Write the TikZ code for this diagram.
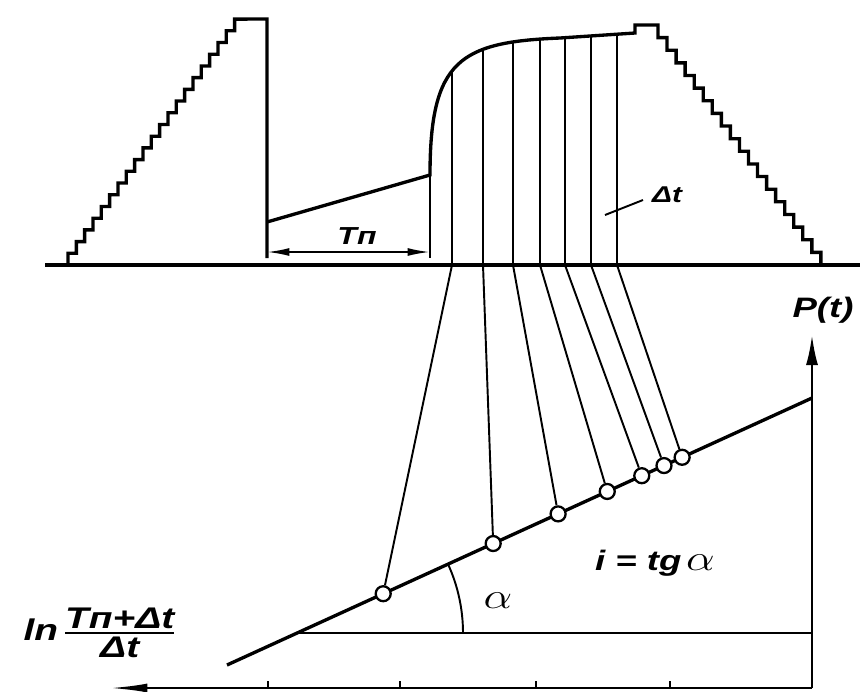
\documentclass[tikz,border=0pt]{standalone}
\usepackage{amsmath}
\usepackage{graphicx}
\usepackage{fontspec}
\newfontfamily\labfont{Liberation Sans}[FakeStretch=1.3]
\usetikzlibrary{arrows.meta}
\usetikzlibrary{calc}

\newcommand{\bigalpha}{\scalebox{1.5}[1.2]{$\alpha$}}

\begin{document}
\begin{tikzpicture}[x=0.02cm,y=-0.02cm]
    \tikzset{thickline/.style = {line width=1.9pt, line join=miter}}
    \tikzset{thinline/.style = {line width=1.1pt}}
    \tikzset{ring/.style = {shape=circle,draw,fill=white,line width=1.3pt,inner sep=0pt,minimum size=0.3cm}}
    \tikzset{lab/.style = {inner sep=1pt, font=\labfont\bfseries\itshape}}
    \tikzset{dim/.style = {thinline, {Latex[length=0.45cm,width=0.16cm]}-{Latex[length=0.45cm,width=0.16cm]}}}
    \tikzset{axisv/.style = {line width=1.4pt, -{Latex[length=0.6cm,width=0.24cm]}}}
    \tikzset{axish/.style = {line width=1.4pt, -{Latex[length=0.75cm,width=0.18cm]}}}

    \useasboundingbox (0,0) rectangle (862,691);

    % time base
    \coordinate (bl) at (45,265);
    \coordinate (br) at (860,265);
    \draw[thickline] (bl) -- (br);

    % loading steps, hold, unloading steps
    \draw[thickline] (68,265) \foreach \k in {1,...,21} { -- ++(0,-11.71) -- ++(8.33,0) } -- (267,19) -- (267,258);
    \draw[thickline] (267,222) -- (430,175) .. controls (430,60) and (460,42) .. (560,38) -- (635,33) -- (635,25) -- (658,25)
        \foreach \k in {1,...,19} { -- ++(0,12.63) -- ++(9.05,0) };
    \draw[thinline] (430,175) -- (430,258);

    % pause length
    \coordinate (tpl) at (267,252);
    \coordinate (tpr) at (430,252);
    \draw[dim] (tpl) -- (tpr);
    \node[lab] (tp) at (357,236) {\fontsize{14}{16}\selectfont Tп};

    % regression line and angle
    \coordinate (r0) at (227,665);
    \coordinate (r1) at (812,398);
    \coordinate (va) at (297,633);
    \draw[line width=1.9pt] (r0) -- (r1);
    \draw[thinline] (va) -- (812,633);
    \draw[thinline] (463,633) arc[start angle=0, end angle=-24.5, radius=166];
    \node[font=\fontsize{16}{18}\selectfont] (al) at (498,601) {\bigalpha};

    % readings
    \foreach \x/\y/\p [count=\i] in {452/71/0.267, 483/49/0.455, 513/42/0.566, 540/39/0.650, 565/37.7/0.709, 591/35.9/0.747, 617/34.2/0.778} {
        \coordinate (t\i) at (\x,\y);
        \coordinate (b\i) at (\x,265);
        \node[ring] (c\i) at ($(r0)!\p!(r1)$) {};
        \draw[thinline] (t\i) -- (b\i) -- (c\i);
    }

    % interval label
    \node[lab] (dt) at (667,195) {\fontsize{13}{15}\selectfont Δt};
    \coordinate (dtfoot) at (605,215);
    \coordinate (dtend) at (643,200);
    \draw[thinline] (dtfoot) -- (dtend);

    % axes
    \coordinate (o) at (812,688);
    \coordinate (ptip) at (812,335);
    \coordinate (lntip) at (110,688);
    \draw[axisv] (o) -- (ptip);
    \draw[axish] (o) -- (lntip);
    \foreach \x in {268,400,536,670} \draw[thinline] (\x,688) -- (\x,681);

    \node[lab] (pt) at (823,310) {\fontsize{16}{18}\selectfont P(t)};
    \node[lab] (eq) at (655,563) {\fontsize{16}{18}\selectfont i = tg\,\bigalpha};
    \node[lab] (ln) at (100,633) {\fontsize{17}{20}\selectfont ln\,$\genfrac{}{}{1.6pt}{}{\mbox{Tп+Δt}}{\mbox{Δt}}$};
\end{tikzpicture}
\end{document}
